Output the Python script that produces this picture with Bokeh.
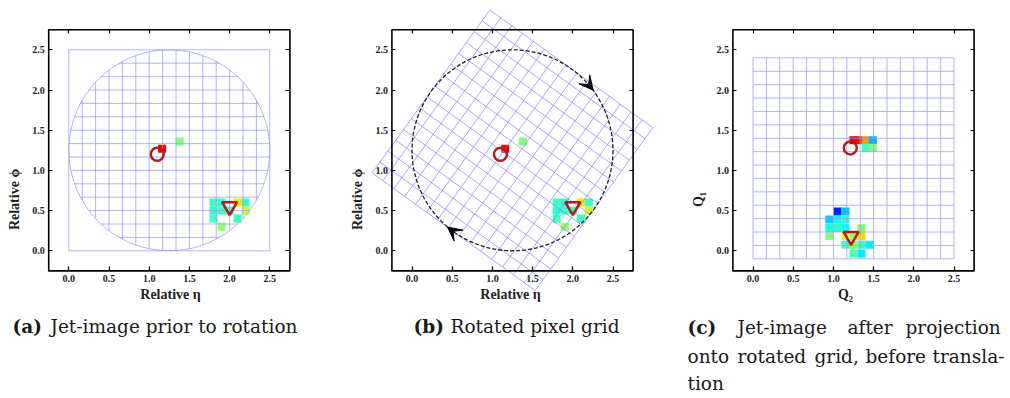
import numpy as np
from bokeh.plotting import figure
from bokeh.layouts import row
from bokeh.models import (Range1d, LinearAxis, FixedTicker, PrintfTickFormatter,
                          CustomJSTickFormatter, LinearColorMapper, ColumnDataSource,
                          Arrow, VeeHead, Label)
from bokeh.embed import file_html
from bokeh.resources import INLINE

# ---------------------------------------------------------------- data
TICKS = [0.0, 0.5, 1.0, 1.5, 2.0, 2.5]
AX_LIM = (-0.25, 2.75)

# jet-image before rotation: pixel centres (eta, phi) and normalised intensity
img_eta = [1.16, 1.38, 1.80, 1.90, 1.80, 1.90, 1.80, 2.00, 2.10, 2.20, 2.20, 2.10, 1.90]
img_phi = [1.27, 1.36, 0.60, 0.60, 0.50, 0.50, 0.40, 0.50, 0.60, 0.60, 0.50, 0.40, 0.30]
img_val = [0.88, 0.50, 0.44, 0.42, 0.42, 0.44, 0.44, 0.44, 0.65, 0.44, 0.58, 0.44, 0.52]

# subjet axes before rotation (eta, phi)
lead_axis = (1.10, 1.20)
second_axis = (2.00, 0.55)

# jet-image after projection onto rotated grid: (Q2, Q1) and intensity
proj_q2 = [1.25, 1.31, 1.40, 1.49, 1.40, 1.49,
           1.05, 1.15, 0.95, 1.05, 1.15, 0.95, 1.05, 1.15, 1.35,
           0.95, 1.15, 1.25, 1.35, 1.15, 1.25, 1.35, 1.45, 1.25, 1.35]
proj_q1 = [1.375, 1.375, 1.375, 1.375, 1.28, 1.28,
           0.49, 0.49, 0.39, 0.39, 0.39, 0.284, 0.284, 0.284, 0.284,
           0.18, 0.18, 0.18, 0.18, 0.076, 0.076, 0.076, 0.076, -0.035, -0.035]
proj_val = [0.90, 0.86, 0.72, 0.30, 0.44, 0.50,
            0.16, 0.32, 0.33, 0.38, 0.42, 0.40, 0.42, 0.38, 0.50,
            0.50, 0.60, 0.52, 0.66, 0.44, 0.50, 0.42, 0.36, 0.45, 0.36]
lead_proj = (1.21, 1.28)
second_proj = (1.22, 0.18)

# positions (degrees on the circle) of the rotation arrows
arrow_deg = [39, 232]

# ---------------------------------------------------------------- style / layout
PX = 80.4             # pixels per data unit
H = 398
ORIGIN_Y = 250.3      # pixel row of value 0.0
GRID_N = 15
GRID_SIZE = 2.5
CELL = 0.1
MARK = "#b01e1e"
SERIF = "Liberation Serif"
CAP_FONT = "DejaVu Serif"


def jet(n=256):
    v = np.linspace(0, 1, n)
    r = np.clip(1.5 - np.abs(4 * v - 3), 0, 1)
    g = np.clip(1.5 - np.abs(4 * v - 2), 0, 1)
    b = np.clip(1.5 - np.abs(4 * v - 1), 0, 1)
    return ["#%02x%02x%02x" % (int(255 * a), int(255 * c), int(255 * d)) for a, c, d in zip(r, g, b)]


cmap = LinearColorMapper(palette=jet(), low=0.0, high=1.0)


def panel(width, origin_x, xlabel, ylabel):
    p = figure(width=width, height=H,
               x_range=Range1d(-origin_x / PX, (width - origin_x) / PX),
               y_range=Range1d((ORIGIN_Y - H) / PX, ORIGIN_Y / PX),
               x_axis_location=None, y_axis_location=None,
               toolbar_location=None, output_backend="svg",
               min_border=0, outline_line_color=None)
    p.grid.visible = False
    common = dict(ticker=FixedTicker(ticks=TICKS), axis_line_color=None,
                  major_tick_in=4, major_tick_out=0, major_tick_line_width=1.2,
                  minor_tick_line_color=None,
                  major_label_text_font=SERIF, major_label_text_font_style="bold",
                  major_label_text_font_size="10px", major_label_text_color="#222222",
                  major_label_standoff=4,
                  axis_label_text_font=SERIF, axis_label_text_font_style="bold",
                  axis_label_text_font_size="14px", axis_label_text_color="#222222")
    blank = CustomJSTickFormatter(code="return ''")
    fmt = PrintfTickFormatter(format="%.1f")
    p.add_layout(LinearAxis(fixed_location=AX_LIM[0], formatter=fmt, axis_label=ylabel,
                            axis_label_standoff=7, **common), "left")
    p.add_layout(LinearAxis(fixed_location=AX_LIM[0], formatter=fmt, axis_label=xlabel,
                            axis_label_standoff=2, **common), "below")
    p.add_layout(LinearAxis(fixed_location=AX_LIM[1], formatter=blank, **common), "right")
    p.add_layout(LinearAxis(fixed_location=AX_LIM[1], formatter=blank, **common), "above")
    return p


def frame_box(p):
    p.quad(left=AX_LIM[0], right=AX_LIM[1], bottom=AX_LIM[0], top=AX_LIM[1],
           fill_color=None, line_color="black", line_width=1.6)


def cells(p, xs, ys, vals):
    src = ColumnDataSource(dict(x=xs, y=ys, v=vals))
    p.rect(x="x", y="y", width=CELL, height=CELL, source=src,
           fill_color={"field": "v", "transform": cmap}, line_color=None)


def markers(p, lead, second):
    p.scatter(x=[lead[0]], y=[lead[1]], marker="circle", size=13,
              fill_color=None, line_color=MARK, line_width=2.5)
    p.scatter(x=[second[0]], y=[second[1]], marker="inverted_triangle", size=15,
              fill_color=None, line_color=MARK, line_width=2.5)


def caption(p, origin_x, words, py):
    # words: (pixel column inside the panel, text, bold)
    for px, txt, bold in words:
        p.add_layout(Label(x=(px - origin_x) / PX, y=(ORIGIN_Y - py) / PX, text=txt,
                           text_font=CAP_FONT, text_font_size="18.5px",
                           text_font_style="bold" if bold else "normal",
                           text_color="#1a1a1a", text_baseline="middle", text_align="left"))


edges = np.linspace(0, GRID_SIZE, GRID_N + 1)
cx = cy = R = GRID_SIZE / 2
GRID_A = "#9a9aff"

# ---------------------------------------------------------------- (a) jet-image prior to rotation
OX_A = 68.3
pa = panel(340, OX_A, "Relative η", "Relative ϕ")
cells(pa, img_eta, img_phi, img_val)
gx, gy = [], []
for e in edges[1:-1]:
    h = np.sqrt(R ** 2 - (e - cx) ** 2)
    gx.append([e, e]); gy.append([cy - h, cy + h])
    gx.append([cx - h, cx + h]); gy.append([e, e])
pa.multi_line(xs=gx, ys=gy, line_color=GRID_A, line_alpha=0.75, line_width=1)
pa.circle(x=[cx], y=[cy], radius=R, fill_color=None, line_color=GRID_A, line_alpha=0.75, line_width=1)
pa.quad(left=0, right=GRID_SIZE, bottom=0, top=GRID_SIZE, fill_color=None,
        line_color=GRID_A, line_alpha=0.75, line_width=1)
markers(pa, lead_axis, second_axis)
frame_box(pa)
caption(pa, OX_A, [(12, "(a)", True), (50, "Jet-image prior to rotation", False)], 326)

# ---------------------------------------------------------------- (b) rotated pixel grid
OX_B = 71.5
pb = panel(340, OX_B, "Relative η", "Relative ϕ")
cells(pb, img_eta, img_phi, img_val)
theta = np.arctan2(second_axis[1] - lead_axis[1], second_axis[0] - lead_axis[0])
ct, st = np.cos(theta), np.sin(theta)
u = edges - R
rx, ry = [], []
for k in u:
    for (ax, ay), (bx, by) in [((k, -R), (k, R)), ((-R, k), (R, k))]:
        rx.append([cx + ax * ct - ay * st, cx + bx * ct - by * st])
        ry.append([cy + ax * st + ay * ct, cy + bx * st + by * ct])
pb.multi_line(xs=rx, ys=ry, line_color="#8080ff", line_alpha=0.7, line_width=1)
pb.circle(x=[cx], y=[cy], radius=R, fill_color=None, line_color="#222222",
          line_width=1.3, line_dash="4 2")
for d in arrow_deg:
    a = np.radians(d)
    x0, y0 = cx + R * np.cos(a), cy + R * np.sin(a)
    tx, ty = np.sin(a), -np.cos(a)
    pb.add_layout(Arrow(end=VeeHead(size=14, fill_color="black", line_color="black"),
                        x_start=x0 - 0.06 * tx, y_start=y0 - 0.06 * ty,
                        x_end=x0 + 0.05 * tx, y_end=y0 + 0.05 * ty,
                        line_color="black", line_width=1.3))
markers(pb, lead_axis, second_axis)
frame_box(pb)
caption(pb, OX_B, [(73, "(b)", True), (110, "Rotated pixel grid", False)], 326)

# ---------------------------------------------------------------- (c) after projection
OX_C = 72.5
pc = panel(330, OX_C, "Q₂", "Q₁")
cells(pc, proj_q2, proj_q1, proj_val)
yedges = edges - 0.1
cgx, cgy = [], []
for e in edges:
    cgx.append([e, e]); cgy.append([yedges[0], yedges[-1]])
for e in yedges:
    cgx.append([edges[0], edges[-1]]); cgy.append([e, e])
pc.multi_line(xs=cgx, ys=cgy, line_color=GRID_A, line_alpha=0.75, line_width=1)
markers(pc, lead_proj, second_proj)
frame_box(pc)
caption(pc, OX_C, [(7, "(c)", True), (57, "Jet-image", False),
                   (167, "after", False), (225, "projection", False)], 327)
caption(pc, OX_C, [(7, "onto", False), (57, "rotated", False),
                   (134, "grid,", False), (185, "before", False),
                   (252, "transla-", False)], 356)
caption(pc, OX_C, [(7, "tion", False)], 383)

layout = row(pa, pb, pc)
open("out.html", "w").write(file_html(layout, INLINE))
